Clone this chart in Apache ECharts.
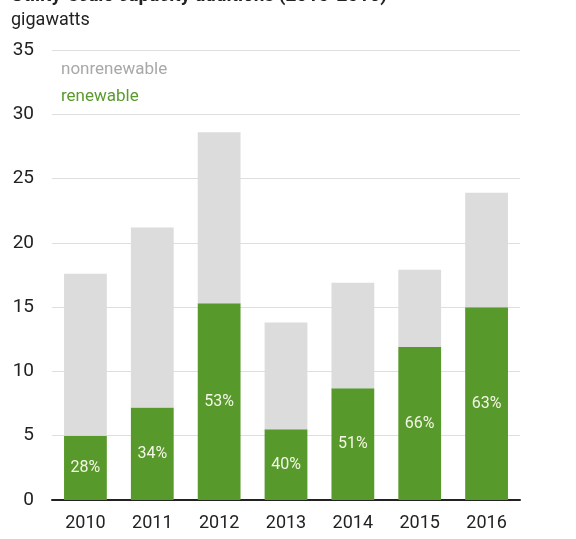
<!DOCTYPE html>
<html>
<head>
<meta charset="utf-8">
<script src="https://cdn.jsdelivr.net/npm/echarts@6/dist/echarts.min.js"></script>
<style>
html, body { margin: 0; padding: 0; background: #fff; }
#chart { width: 576px; height: 539px; }
</style>
</head>
<body>
<div id="chart"></div>
<script>
// capacity additions, gigawatts
const years = ['2010', '2011', '2012', '2013', '2014', '2015', '2016']
const renewable = [5.0, 7.2, 15.3, 5.5, 8.7, 11.9, 15.0]
const nonrenewable = [12.6, 14.0, 13.3, 8.3, 8.2, 6.0, 8.9]
const shareLabels = ['28%', '34%', '53%', '40%', '51%', '66%', '63%']
const yTicks = [0, 5, 10, 15, 20, 25, 30, 35]

let chart = echarts.init(document.getElementById('chart'))
let font = 'Roboto, "Liberation Sans", sans-serif'

chart.setOption({
  animation: false,
  textStyle: { fontFamily: font },
  title: [{
    text: 'Utility-scale capacity additions (2010-2016)',
    left: 6,
    top: -18,
    textStyle: { fontSize: 19, fontWeight: 'bold', color: '#222', fontFamily: font }
  }, {
    text: 'gigawatts',
    left: 6,
    top: 6,
    textStyle: { fontSize: 18, fontWeight: 'normal', color: '#222', fontFamily: font }
  }],
  legend: {
    orient: 'vertical',
    left: 51,
    top: 56,
    itemWidth: 0,
    itemHeight: 0,
    itemGap: 10,
    icon: 'rect',
    data: ['nonrenewable', 'renewable'],
    textStyle: { fontSize: 17, fontFamily: font, padding: 0 },
    selectedMode: false
  },
  grid: { left: 52, right: 56, top: 50, bottom: 39, outerBoundsMode: 'none' },
  xAxis: {
    type: 'category',
    data: years,
    axisTick: { show: false },
    axisLine: { lineStyle: { color: '#222', width: 2 } },
    axisLabel: { fontSize: 18, color: '#222', margin: 14, fontFamily: font }
  },
  yAxis: {
    type: 'value',
    min: yTicks[0],
    max: yTicks[yTicks.length - 1],
    interval: 5,
    axisLabel: { fontSize: 19, color: '#222', margin: 18, fontFamily: font },
    axisLine: { show: false },
    axisTick: { show: false },
    splitLine: { lineStyle: { color: '#dedede', width: 1 } }
  },
  series: [{
    name: 'renewable',
    type: 'bar',
    stack: 'total',
    barWidth: '64%',
    data: renewable,
    itemStyle: { color: '#57992b' },
    label: {
      show: true,
      position: 'inside',
      color: '#f4f7e6',
      fontSize: 16,
      fontFamily: font,
      formatter: p => shareLabels[p.dataIndex]
    }
  }, {
    name: 'nonrenewable',
    type: 'bar',
    stack: 'total',
    data: nonrenewable,
    itemStyle: { color: '#dcdcdc' }
  }]
})

// legend text colours follow the series
chart.setOption({
  legend: {
    data: [
      { name: 'nonrenewable', textStyle: { color: '#a8a8a8' } },
      { name: 'renewable', textStyle: { color: '#5a9a2e' } }
    ]
  }
})
</script>
</body>
</html>
